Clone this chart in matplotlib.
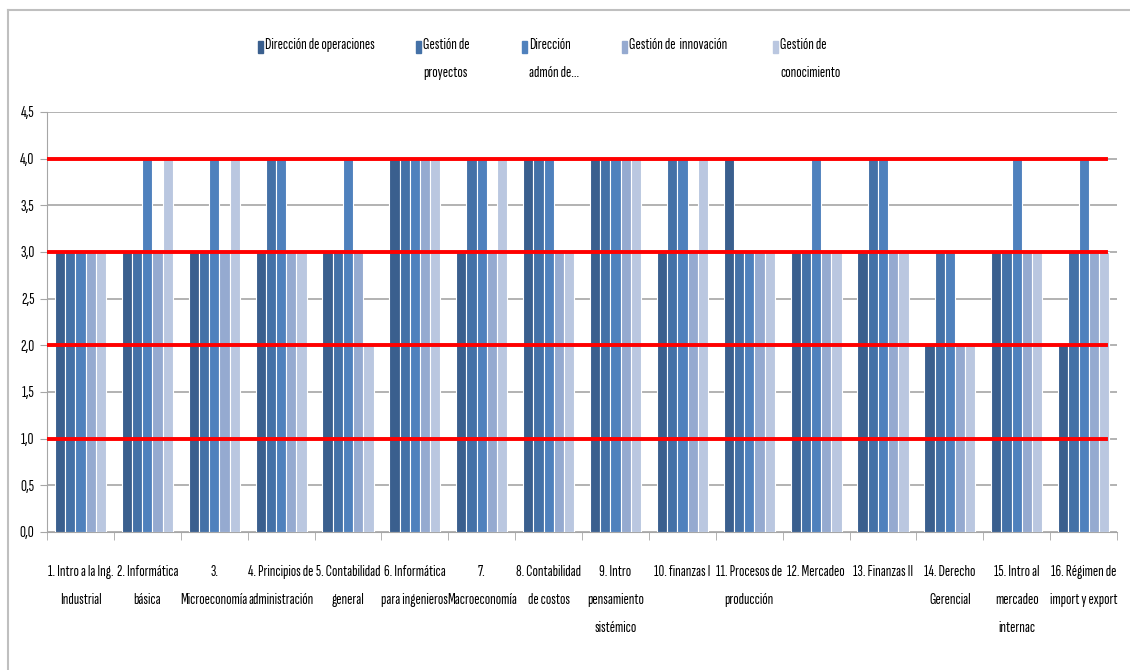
import matplotlib.pyplot as plt
import numpy as np
from matplotlib.patches import Rectangle
from matplotlib.lines import Line2D

plt.rcParams['font.family'] = ['Sofia Sans Extra Condensed', 'DejaVu Sans']

# asignaturas (categorías)
asignaturas = ['1. Intro a la Ing.\nIndustrial', '2. Informática\nbásica', '3.\nMicroeconomía',
               '4. Principios de\nadministración', '5. Contabilidad\ngeneral',
               '6. Informática\npara ingenieros', '7.\nMacroeconomía', '8. Contabilidad\nde costos',
               '9. Intro\npensamiento\nsistémico', '10. finanzas I', '11. Procesos de\nproducción',
               '12. Mercadeo', '13. Finanzas II', '14. Derecho\nGerencial',
               '15. Intro al\nmercadeo\ninternac', '16. Régimen de\nimport y export']

# series
series = ['Dirección de operaciones', 'Gestión de\nproyectos', 'Dirección\nadmón de...',
          'Gestión de  innovación', 'Gestión de\nconocimiento']

dir_operaciones = [3, 3, 3, 3, 3, 4, 3, 4, 4, 3, 4, 3, 3, 2, 3, 2]
gest_proyectos = [3, 3, 3, 4, 3, 4, 4, 4, 4, 4, 3, 3, 4, 3, 3, 3]
dir_admon = [3, 4, 4, 4, 4, 4, 4, 4, 4, 4, 3, 4, 4, 3, 4, 4]
gest_innovacion = [3, 3, 3, 3, 3, 4, 3, 3, 4, 3, 3, 3, 3, 2, 3, 3]
gest_conocimiento = [3, 4, 4, 3, 2, 4, 4, 3, 4, 4, 3, 3, 3, 2, 3, 3]

valores = [dir_operaciones, gest_proyectos, dir_admon, gest_innovacion, gest_conocimiento]
colores = ['#3A5F8E', '#4471A7', '#4F81BD', '#95AAD0', '#BAC7E0']

# niveles de referencia (líneas rojas)
niveles = [1, 2, 3, 4]

fig = plt.figure(figsize=(11.3, 6.7), dpi=100)
ax = fig.add_axes([0.0416, 0.206, 0.947, 0.627])

x = np.arange(len(asignaturas))
ancho = 0.153
for i, (vals, c) in enumerate(zip(valores, colores)):
    ax.bar(x + (i - 2) * ancho, vals, width=ancho, color=c, edgecolor='white',
           linewidth=0.8, zorder=3)

for n in niveles:
    ax.axhline(n, xmin=0, xmax=0.99, color='#FF0000', lw=2.8, zorder=4)

ax.set_xlim(-0.5, len(asignaturas) - 0.5)
ax.set_ylim(0, 4.5)
ax.set_yticks(np.arange(0, 4.51, 0.5))
ax.set_yticklabels([f'{v:.1f}'.replace('.', ',') for v in np.arange(0, 4.51, 0.5)], fontsize=12)
ax.yaxis.grid(True, color='#A6A6A6', lw=1.2, zorder=0)
ax.set_xticks(x)
ax.set_xticklabels(asignaturas, fontsize=11.5, linespacing=2.25, va='top')
ax.tick_params(axis='x', length=0, pad=24)
ax.set_xticks(np.arange(-0.5, len(asignaturas), 1), minor=True)
ax.tick_params(axis='x', which='minor', length=6, color='#A6A6A6')
ax.tick_params(axis='y', length=5, color='#A6A6A6', pad=4)
for s in ['top', 'right']:
    ax.spines[s].set_visible(False)
for s in ['left', 'bottom']:
    ax.spines[s].set_color('#A6A6A6')

# leyenda manual
leg_x = [258, 416, 522, 622, 773]
for lx, lab, c in zip(leg_x, series, colores):
    fig.patches.append(Rectangle(((lx) / 1130, 1 - 53 / 670), 5 / 1130, 12 / 670,
                                 transform=fig.transFigure, color=c))
    fig.text((lx + 7) / 1130, 1 - 38 / 670, lab, fontsize=11.5, va='top', ha='left',
             linespacing=2.3)

# marco del gráfico
fig.add_artist(Line2D([8 / 1130, 1], [1 - 10 / 670, 1 - 10 / 670], color='#BFBFBF', lw=1.5,
                      transform=fig.transFigure))
fig.add_artist(Line2D([8 / 1130, 8 / 1130], [0, 1 - 10 / 670], color='#BFBFBF', lw=1.5,
                      transform=fig.transFigure))

fig.savefig('out.png', dpi=100)
